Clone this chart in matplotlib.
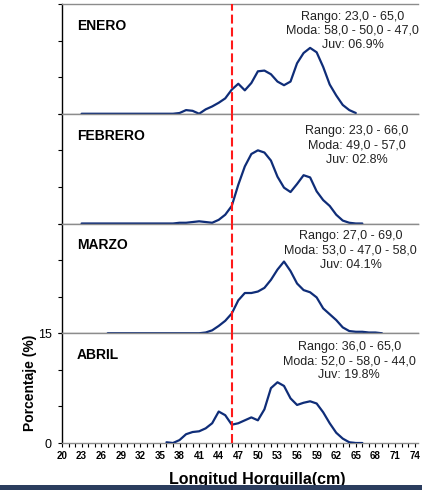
"""
Distribucion de tallas por mes (Longitud Horquilla) - 4 paneles apilados.
"""
import matplotlib
matplotlib.use('Agg')
import matplotlib.pyplot as plt
import matplotlib.patches as mpatches
import numpy as np

plt.rcParams['font.family'] = ['Liberation Sans', 'DejaVu Sans']

# --- datos (% por talla, cm) ---
months = ['ENERO', 'FEBRERO', 'MARZO', 'ABRIL']

enero_start = 23
enero_pct = [0, 0, 0, 0, 0, 0, 0, 0, 0, 0, 0, 0, 0, 0, 0,
             0.1, 0.5, 0.4, 0.0, 0.6, 1.0, 1.5, 2.1, 3.3, 4.1, 3.2, 4.2,
             5.8, 5.9, 5.4, 4.4, 3.9, 4.4, 6.9, 8.3, 9.0, 8.4, 6.4, 4.0,
             2.5, 1.2, 0.5, 0.1]

febrero_start = 23
febrero_pct = [0, 0, 0, 0, 0, 0, 0, 0, 0, 0, 0, 0, 0, 0, 0,
               0.1, 0.1, 0.2, 0.3, 0.2, 0.1, 0.5, 1.2, 2.4, 5.3, 7.8, 9.5,
               10.0, 9.7, 8.6, 6.4, 4.9, 4.3, 5.4, 6.6, 6.3, 4.4, 3.2, 2.4,
               1.2, 0.4, 0.1, 0.0, 0.0]

marzo_start = 27
marzo_pct = [0, 0, 0, 0, 0, 0, 0, 0, 0, 0, 0, 0, 0, 0, 0,
             0.1, 0.4, 1.0, 1.7, 2.7, 4.5, 5.5, 5.5, 5.7, 6.2, 7.3, 8.7,
             9.8, 8.5, 6.8, 5.9, 5.6, 4.9, 3.4, 2.6, 1.8, 0.8, 0.3, 0.2,
             0.2, 0.1, 0.1, 0.0]

abril_start = 36
abril_pct = [0.1, 0.0, 0.4, 1.2, 1.5, 1.6, 2.0, 2.7, 4.3, 3.8, 2.5, 2.7,
             3.1, 3.5, 3.1, 4.6, 7.5, 8.3, 7.8, 6.1, 5.2, 5.5, 5.7, 5.4,
             4.2, 2.7, 1.4, 0.6, 0.1, 0.0, 0.0]

starts = [enero_start, febrero_start, marzo_start, abril_start]
series = [enero_pct, febrero_pct, marzo_pct, abril_pct]

info_texts = [
    'Rango: 23,0 - 65,0\nModa: 58,0 - 50,0 - 47,0\nJuv: 06.9%',
    'Rango: 23,0 - 66,0\nModa: 49,0 - 57,0\nJuv: 02.8%',
    'Rango: 27,0 - 69,0\nModa: 53,0 - 47,0 - 58,0\nJuv: 04.1%',
    'Rango: 36,0 - 65,0\nModa: 52,0 - 58,0 - 44,0\nJuv: 19.8%',
]

talla_min = 46
x_ticks = list(range(20, 75, 3))

LINE_C = '#0f2d78'
GRID_C = '#8c8c8c'

fig = plt.figure(figsize=(4.22, 4.90), dpi=100)
fig.patch.set_facecolor('white')

left, right = 62 / 422, 418.5 / 422
top, bottom = 1 - 4 / 490, 1 - 443 / 490
panel_h = (top - bottom) / 4

# info text centres (axes fraction) - FEBRERO sits a bit right/lower
info_x = [0.815, 0.828, 0.810, 0.806]
info_y = [0.94, 0.895, 0.94, 0.93]

for i, (name, x0, pct) in enumerate(zip(months, starts, series)):
    ax = fig.add_axes([left, top - (i + 1) * panel_h, right - left, panel_h])
    x = np.arange(x0, x0 + len(pct))
    ax.plot(x, pct, color=LINE_C, lw=1.6, solid_capstyle='round', zorder=3)
    ax.axvline(talla_min, color='#ff1a1a', lw=1.5, ls=(0, (4.3, 1.9)), zorder=4)

    ax.set_xlim(20, 74.6)
    ax.set_ylim(0, 15)
    ax.set_yticks([0, 5, 10, 15])
    ax.tick_params(axis='y', direction='out', length=3, width=0.8,
                   labelsize=9, pad=4.5, colors='black')

    ax.spines['right'].set_visible(False)
    ax.spines['left'].set_color('black')
    ax.spines['left'].set_linewidth(1.0)
    for s in ('top', 'bottom'):
        ax.spines[s].set_color(GRID_C)
        ax.spines[s].set_linewidth(1.0)

    ax.text(0.042, 0.80, name, transform=ax.transAxes, fontsize=10,
            fontweight='bold', va='center', ha='left', color='black')
    ax.text(info_x[i], info_y[i], info_texts[i], transform=ax.transAxes,
            fontsize=9, va='top', ha='center', color='#222222',
            linespacing=1.25, multialignment='center')

    if i < 3:
        ax.set_yticklabels([])
        ax.tick_params(axis='x', bottom=False, labelbottom=False)
    else:
        ax.set_yticklabels(['0', '', '', '15'])
        ax.set_xticks(x_ticks)
        ax.set_xticks(range(20, 75), minor=True)
        ax.tick_params(axis='x', which='both', direction='out', length=3,
                       width=0.8, labelsize=7, pad=2.5)
        for lab in ax.get_xticklabels():
            lab.set_fontweight('bold')
        ax.set_xlabel('Longitud Horquilla(cm)', fontsize=11.5, fontweight='bold')
        ax.xaxis.set_label_coords(0.547, -0.26)
        ax.set_ylabel('Porcentaje (%)', fontsize=10, fontweight='bold')
        ax.yaxis.set_label_coords(-0.07, 0.545)

# franja inferior
fig.patches.append(mpatches.Rectangle((0, 0), 1, 5 / 490, transform=fig.transFigure,
                                      facecolor='#2b3d5e', edgecolor='none'))

fig.savefig('out.png', dpi=100, facecolor='white')
plt.close(fig)
